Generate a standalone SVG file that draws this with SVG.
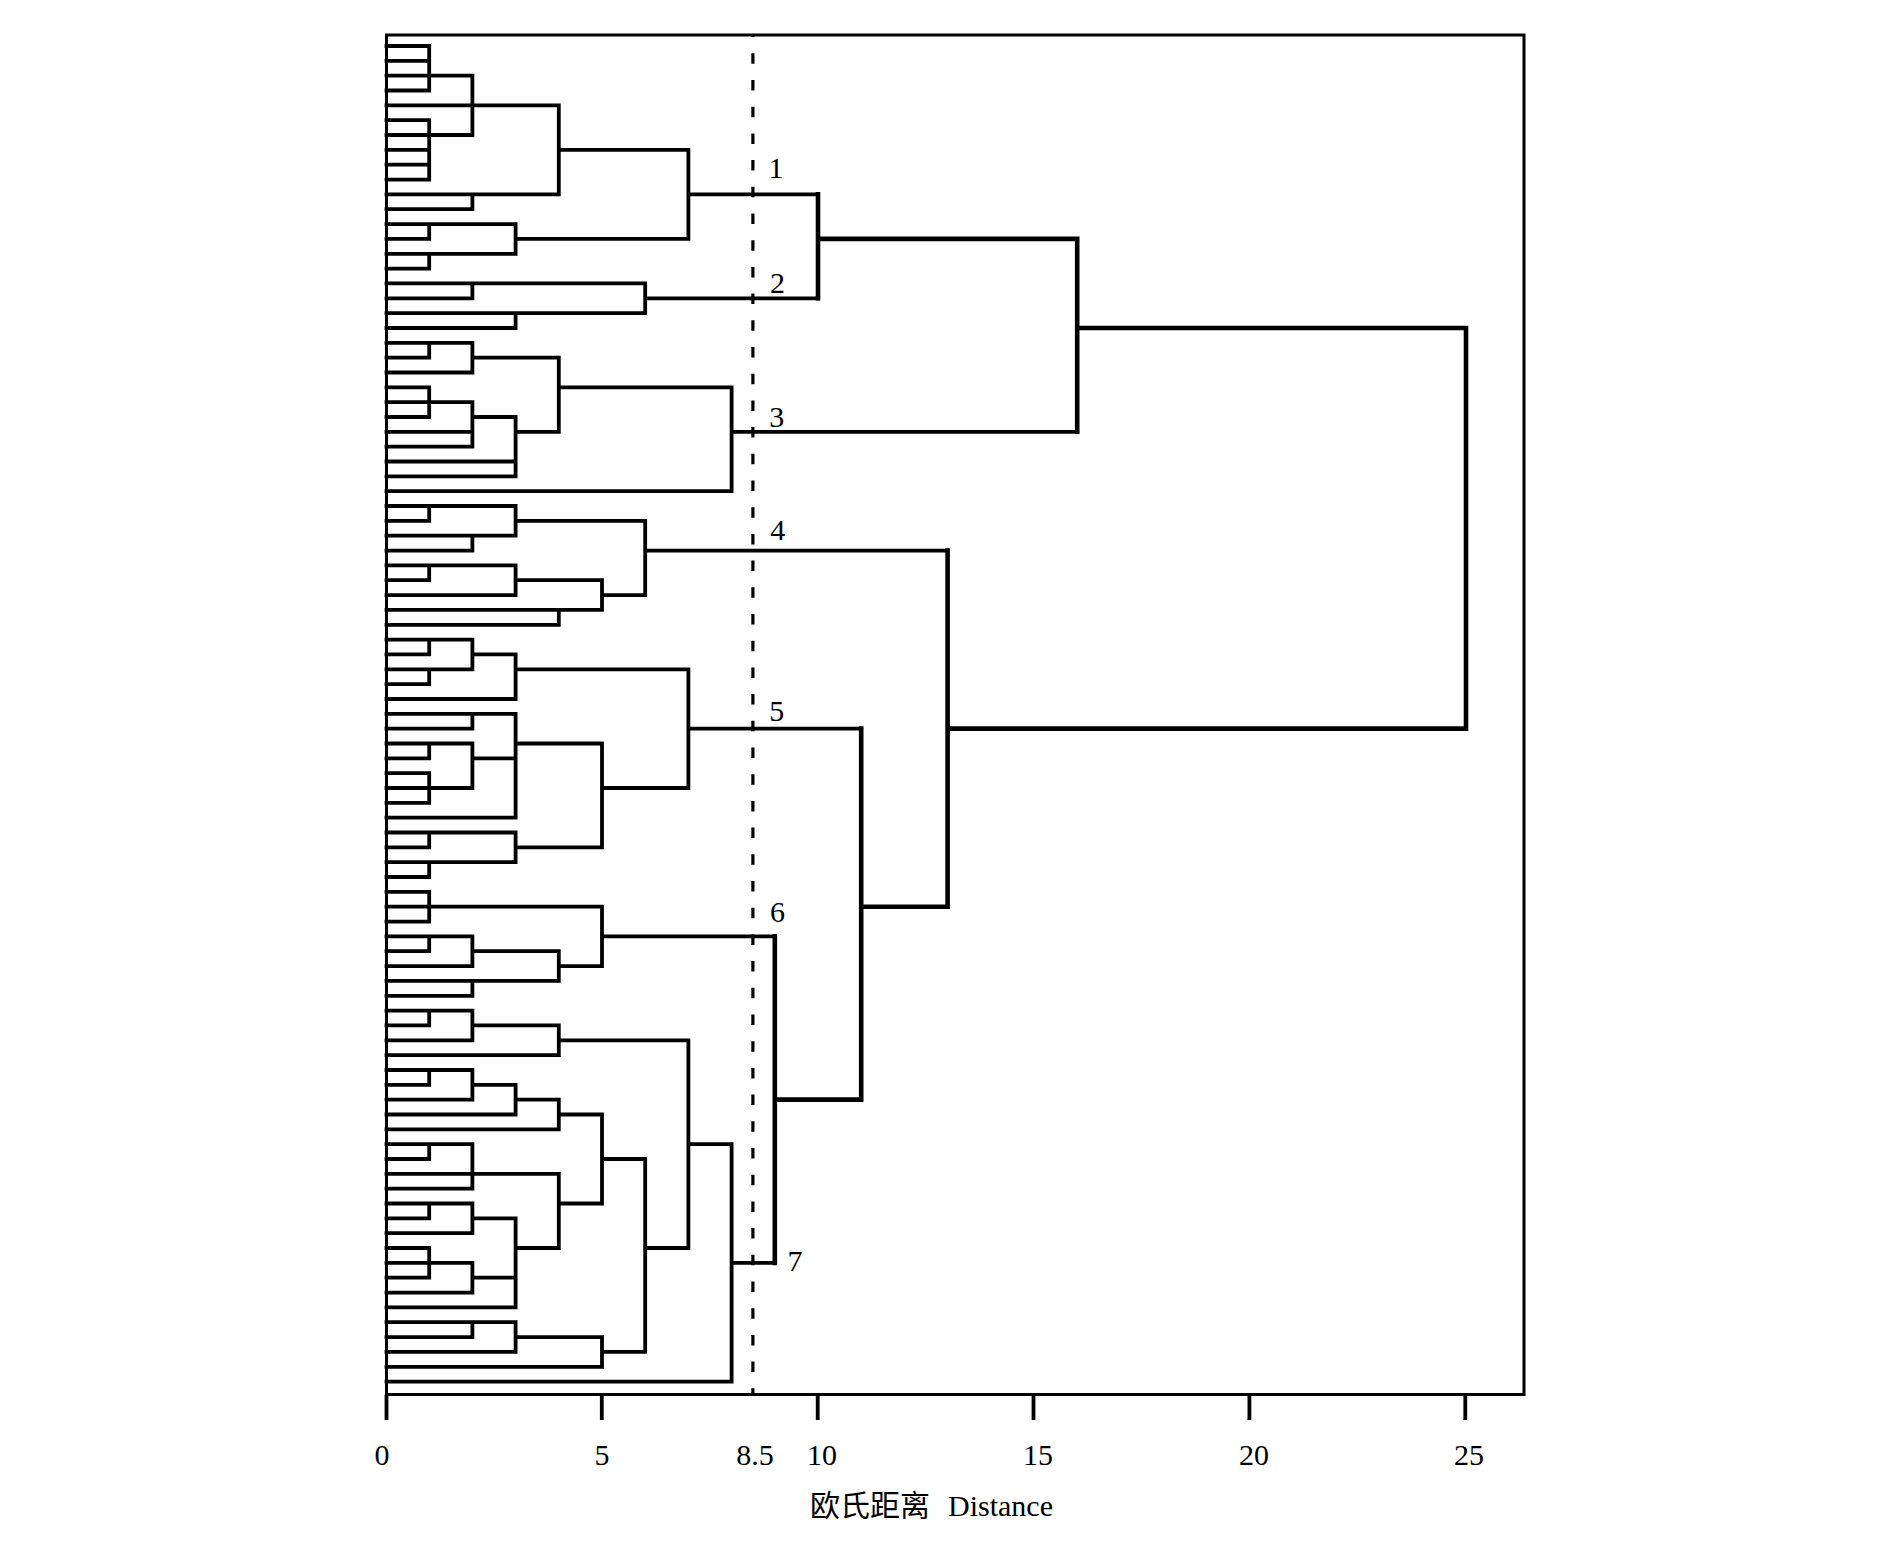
<svg xmlns="http://www.w3.org/2000/svg" width="1890" height="1553" viewBox="0 0 1890 1553">
<style>
.ln{fill:none;stroke:#000;stroke-width:3.8;stroke-linecap:square;stroke-linejoin:miter}
.fr{fill:none;stroke:#000;stroke-width:3;stroke-linecap:square}
.tk{fill:none;stroke:#000;stroke-width:3.8}
.cn{fill:none;stroke:#000;stroke-width:4.6;stroke-linecap:square;stroke-linejoin:miter}
.dash{fill:none;stroke:#000;stroke-width:3.2;stroke-dasharray:10.5 16.2;stroke-dashoffset:8.4}
.lab{font-family:"Liberation Serif","Times New Roman",serif;font-size:30px;fill:#000;text-anchor:middle}
.ttl{font-family:"Liberation Serif","Noto Sans CJK SC",serif;font-size:30px;fill:#000}
</style>
<rect width="1890" height="1553" fill="#fff"/>
<g id="frame">
<path class="fr" d="M386.5 35H1524V1394.5H386.5Z"/>
<path class="tk" d="M386.5 1394.5V1420M601.8 1394.5V1420M817.7 1394.5V1420M1033.5 1394.5V1420M1249.4 1394.5V1420M1465.3 1394.5V1420"/>
<text class="lab" x="382" y="1465">0</text>
<text class="lab" x="602" y="1465">5</text>
<text class="lab" x="755" y="1465">8.5</text>
<text class="lab" x="822" y="1465">10</text>
<text class="lab" x="1038" y="1465">15</text>
<text class="lab" x="1254" y="1465">20</text>
<text class="lab" x="1469" y="1465">25</text>
<text class="ttl" x="810" y="1516">欧氏距离</text>
<text class="ttl" x="948" y="1516">Distance</text>
</g>
<g id="cluster-1">
<path class="ln" d="M386.5 46H429.2M386.5 60.8H429.2M386.5 75.7H429.2M386.5 90.5H429.2M386.5 105.4H472.4M386.5 120.2H429.2M386.5 135H429.2M386.5 149.9H429.2M386.5 164.7H429.2M386.5 179.6H429.2M386.5 194.4H472.4M386.5 209.2H472.4M386.5 224.1H429.2M386.5 238.9H429.2M386.5 253.8H429.2M386.5 268.6H429.2
M429.2 46V90.5M429.2 75.7H472.4M429.2 120.2V179.6M429.2 135H472.4M472.4 75.7V135M472.4 105.4H558.8M472.4 194.4V209.2M472.4 194.4H558.8M558.8 105.4V194.4M558.8 149.9H688.4M429.2 224.1V238.9M429.2 224.1H515.6M429.2 253.8V268.6M429.2 253.8H515.6M515.6 224.1V253.8M515.6 238.9H688.4M688.4 149.9V238.9M688.4 194.4H818"/>
<text class="lab" x="776" y="177.5">1</text>
</g>
<g id="cluster-2">
<path class="ln" d="M386.5 283.4H472.4M386.5 298.3H472.4M386.5 313.1H515.6M386.5 328H515.6M472.4 283.4V298.3M472.4 283.4H645.2M515.6 313.1V328M515.6 313.1H645.2M645.2 283.4V313.1M645.2 298.3H818"/>
<text class="lab" x="777.5" y="292.7">2</text>
</g>
<g id="cluster-3">
<path class="ln" d="M386.5 342.8H429.2M386.5 357.6H429.2M386.5 372.5H472.4M386.5 387.3H429.2M386.5 402.2H429.2M386.5 417H429.2M386.5 431.8H472.4M386.5 446.7H472.4M386.5 461.5H515.6M386.5 476.4H515.6M386.5 491.2H731.6
M429.2 342.8V357.6M429.2 342.8H472.4M472.4 342.8V372.5M472.4 357.6H558.8M429.2 387.3V417M429.2 402.2H472.4M472.4 402.2V446.7M472.4 417H515.6M515.6 417V476.4M515.6 431.8H558.8M558.8 357.6V431.8M558.8 387.3H731.6M731.6 387.3V491.2M731.6 431.8H1077.2"/>
<text class="lab" x="776.7" y="427">3</text>
</g>
<g id="cluster-4">
<path class="ln" d="M386.5 506H429.2M386.5 520.9H429.2M386.5 535.7H472.4M386.5 550.6H472.4M386.5 565.4H429.2M386.5 580.2H429.2M386.5 595.1H515.6M386.5 609.9H558.8M386.5 624.8H558.8
M429.2 506V520.9M429.2 506H515.6M472.4 535.7V550.6M472.4 535.7H515.6M515.6 506V535.7M515.6 520.9H645.2M429.2 565.4V580.2M429.2 565.4H515.6M515.6 565.4V595.1M515.6 580.2H602M558.8 609.9V624.8M558.8 609.9H602M602 580.2V609.9M602 595.1H645.2M645.2 520.9V595.1M645.2 550.6H947.6"/>
<text class="lab" x="777.7" y="540">4</text>
</g>
<g id="cluster-5">
<path class="ln" d="M386.5 639.6H429.2M386.5 654.4H429.2M386.5 669.3H429.2M386.5 684.1H429.2M386.5 699H515.6M386.5 713.8H472.4M386.5 728.6H472.4M386.5 743.5H429.2M386.5 758.3H429.2M386.5 773.2H429.2M386.5 788H429.2M386.5 802.8H429.2M386.5 817.7H515.6M386.5 832.5H429.2M386.5 847.4H429.2M386.5 862.2H429.2M386.5 877H429.2
M429.2 639.6V654.4M429.2 639.6H472.4M429.2 669.3V684.1M429.2 669.3H472.4M472.4 639.6V669.3M472.4 654.4H515.6M515.6 654.4V699M515.6 669.3H688.4M472.4 713.8V728.6M472.4 713.8H515.6M429.2 743.5V758.3M429.2 743.5H472.4M429.2 773.2V802.8M429.2 788H472.4M472.4 743.5V788M472.4 758.3H515.6M515.6 713.8V817.7M515.6 743.5H602M429.2 832.5V847.4M429.2 832.5H515.6M429.2 862.2V877M429.2 862.2H515.6M515.6 832.5V862.2M515.6 847.4H602M602 743.5V847.4M602 788H688.4M688.4 669.3V788M688.4 728.6H861.2"/>
<text class="lab" x="776.7" y="721">5</text>
</g>
<g id="cluster-6">
<path class="ln" d="M386.5 891.9H429.2M386.5 906.7H429.2M386.5 921.6H429.2M386.5 936.4H429.2M386.5 951.2H429.2M386.5 966.1H472.4M386.5 980.9H472.4M386.5 995.8H472.4
M429.2 891.9V921.6M429.2 906.7H602M429.2 936.4V951.2M429.2 936.4H472.4M472.4 936.4V966.1M472.4 951.2H558.8M472.4 980.9V995.8M472.4 980.9H558.8M558.8 951.2V980.9M558.8 966.1H602M602 906.7V966.1M602 936.4H774.8"/>
<text class="lab" x="777.5" y="921.7">6</text>
</g>
<g id="cluster-7">
<path class="ln" d="M386.5 1010.6H429.2M386.5 1025.4H429.2M386.5 1040.3H472.4M386.5 1055.1H558.8M386.5 1070H429.2M386.5 1084.8H429.2M386.5 1099.6H472.4M386.5 1114.5H515.6M386.5 1129.3H558.8M386.5 1144.2H429.2M386.5 1159H429.2M386.5 1173.8H472.4M386.5 1188.7H472.4M386.5 1203.5H429.2M386.5 1218.4H429.2M386.5 1233.2H472.4M386.5 1248H429.2M386.5 1262.9H429.2M386.5 1277.7H429.2M386.5 1292.6H472.4M386.5 1307.4H515.6M386.5 1322.2H472.4M386.5 1337.1H472.4M386.5 1351.9H515.6M386.5 1366.8H602M386.5 1381.6H731.6
M429.2 1010.6V1025.4M429.2 1010.6H472.4M472.4 1010.6V1040.3M472.4 1025.4H558.8M558.8 1025.4V1055.1M558.8 1040.3H688.4M429.2 1070V1084.8M429.2 1070H472.4M472.4 1070V1099.6M472.4 1084.8H515.6M515.6 1084.8V1114.5M515.6 1099.6H558.8M558.8 1099.6V1129.3M558.8 1114.5H602M429.2 1144.2V1159M429.2 1144.2H472.4M472.4 1144.2V1188.7M472.4 1173.8H558.8M429.2 1203.5V1218.4M429.2 1203.5H472.4M472.4 1203.5V1233.2M472.4 1218.4H515.6M429.2 1248V1277.7M429.2 1262.9H472.4M472.4 1262.9V1292.6M472.4 1277.7H515.6M515.6 1218.4V1307.4M515.6 1248H558.8M558.8 1173.8V1248M558.8 1203.5H602M602 1114.5V1203.5M602 1159H645.2M472.4 1322.2V1337.1M472.4 1322.2H515.6M515.6 1322.2V1351.9M515.6 1337.1H602M602 1337.1V1366.8M602 1351.9H645.2M645.2 1159V1351.9M645.2 1248H688.4M688.4 1040.3V1248M688.4 1144.2H731.6M731.6 1144.2V1381.6M731.6 1262.9H774.8"/>
<text class="lab" x="795" y="1271">7</text>
</g>
<g id="connectors">
<path class="cn" d="M818 194.4V298.3M818 238.9H1077.2M1077.2 238.9V431.8M1077.2 328H1466M774.8 936.4V1262.9M774.8 1099.6H861.2M861.2 728.6V1099.6M861.2 906.7H947.6M947.6 550.6V906.7M947.6 728.6H1466M1466 328V728.6"/>
</g>
<g id="cut-line">
<path class="dash" d="M752.9 35V1394.5"/>
</g>
</svg>
